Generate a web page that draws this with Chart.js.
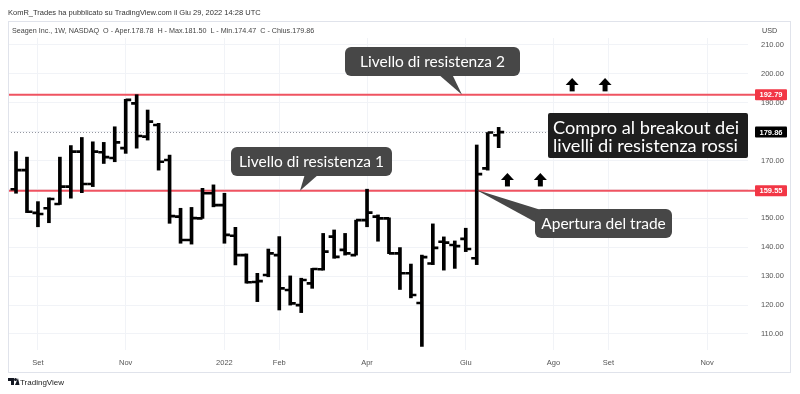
<!DOCTYPE html>
<html>
<head>
<meta charset="utf-8">
<script src="https://cdn.jsdelivr.net/npm/chart.js@4.4.1/dist/chart.umd.min.js"></script>
<style>
html, body { margin: 0; padding: 0; background: #fff; }
#wrap { position: relative; width: 800px; height: 394px; overflow: hidden; }
#grafico { position: absolute; left: 0; top: 0; }
.t { position: absolute; font-family: "Liberation Sans", Arial, sans-serif; color: #333; white-space: nowrap; }
</style>
</head>
<body>
<div id="wrap">
  <canvas id="grafico" width="800" height="394"></canvas>
  <div class="t" style="left:8px;top:8px;font-size:7.5px;">KomR_Trades ha pubblicato su TradingView.com il Giu 29, 2022 14:28 UTC</div>
  <div class="t" style="left:12px;top:26px;font-size:7.2px;color:#444;">Seagen Inc., 1W, NASDAQ&nbsp; O - Aper.178.78&nbsp; H - Max.181.50&nbsp; L - Min.174.47&nbsp; C - Chius.179.86</div>
  <div class="t" style="left:762px;top:26px;font-size:7.2px;color:#444;">USD</div>
  <div class="t" style="left:20px;top:378px;font-size:8px;color:#222;">TradingView</div>
</div>
<script>
// barre settimanali (23 ago 2021 -> 27 giu 2022)
const aperture = [160.1, 166.7, 151.9, 153.5, 155.0, 161.0, 173.1, 161.9, 172.9, 170.9, 174.3, 189.8, 178.3, 182.3, 170.2,
    150.6, 142.5, 150.0, 158.7, 154.6, 144.0, 137.3, 128.0, 130.4, 137.3, 125.2, 120.0, 127.5, 132.4, 143.7,
    139.1, 137.3, 149.4, 150.6, 150.0, 137.9, 131.0, 120.7, 134.4, 141.9, 140.8, 142.9, 136.2, 167.3, 178.78];
const massimi = [173.1, 171.2, 155.8, 157.1, 171.2, 175.2, 178.0, 176.5, 176.3, 181.7, 191.2, 192.8, 187.5, 182.9, 171.9,
    153.5, 153.8, 160.4, 161.6, 158.7, 146.9, 137.7, 131.0, 139.4, 143.7, 130.1, 129.3, 132.7, 144.8, 146.0,
    144.8, 149.4, 160.1, 151.2, 150.2, 139.9, 134.2, 137.3, 148.1, 143.6, 142.2, 146.6, 175.4, 179.7, 181.50];
const minimi = [158.7, 152.0, 147.1, 148.5, 154.8, 157.0, 158.9, 161.0, 169.0, 169.6, 172.5, 174.3, 177.1, 166.7, 148.3,
    141.4, 141.1, 150.0, 154.0, 141.4, 133.9, 127.6, 121.2, 129.8, 118.3, 120.0, 117.4, 125.8, 132.1, 136.2,
    137.3, 137.3, 147.1, 142.1, 137.8, 125.4, 122.5, 105.7, 134.0, 132.1, 132.7, 138.5, 134.0, 166.7, 174.47];
const chiusure = [166.7, 152.3, 151.5, 156.7, 161.0, 173.1, 161.9, 173.1, 171.2, 176.3, 191.0, 178.5, 183.5, 169.6, 150.8,
    142.5, 150.1, 158.7, 154.6, 144.3, 137.3, 127.9, 128.3, 137.9, 125.8, 120.6, 128.7, 132.5, 138.5, 136.7,
    137.9, 149.4, 152.0, 150.0, 137.9, 131.0, 123.5, 136.6, 139.8, 141.6, 140.4, 139.4, 165.3, 179.7, 179.86];

const mesiPos = [2, 10, 19, 24, 32, 41, 49, 54, 63];
const mesiEtichette = ["Set", "Nov", "2022", "Feb", "Apr", "Giu", "Ago", "Set", "Nov"];
const prezziTick = [110, 120, 130, 140, 150, 160, 170, 180, 190, 200, 210];

const resistenze = [192.79, 159.55];
const ultimoPrezzo = 179.86;

const frecceX = [44.8, 47.8, 50.7, 53.7];
const frecceY = [163.3, 163.3, 196.2, 196.2];

function rettangolo(ctx, x, y, w, h, r, colore) {
    ctx.fillStyle = colore;
    ctx.beginPath();
    ctx.roundRect(x, y, w, h, r);
    ctx.fill();
}

function triangolo(ctx, p, colore) {
    ctx.fillStyle = colore;
    ctx.beginPath();
    ctx.moveTo(p[0], p[1]);
    ctx.lineTo(p[2], p[3]);
    ctx.lineTo(p[4], p[5]);
    ctx.closePath();
    ctx.fill();
}

const livelliPlugin = {
    id: "livelli",
    beforeDatasetsDraw(chart) {
        const { ctx, chartArea, scales } = chart;
        ctx.save();
        ctx.strokeStyle = "#9598a1";
        ctx.lineWidth = 1;
        ctx.setLineDash([1, 2]);
        const yp = Math.round(scales.y.getPixelForValue(ultimoPrezzo)) + 0.5;
        ctx.beginPath();
        ctx.moveTo(chartArea.left, yp);
        ctx.lineTo(chartArea.right, yp);
        ctx.stroke();
        ctx.setLineDash([]);
        ctx.strokeStyle = "#ef5361";
        ctx.lineWidth = 2;
        resistenze.forEach(v => {
            const y = scales.y.getPixelForValue(v);
            ctx.beginPath();
            ctx.moveTo(chartArea.left, y);
            ctx.lineTo(chartArea.right + 7, y);
            ctx.stroke();
        });
        ctx.restore();
    }
};

const ohlcPlugin = {
    id: "ohlc",
    afterDatasetsDraw(chart) {
        const { ctx, scales } = chart;
        ctx.save();
        ctx.strokeStyle = "#000";
        ctx.lineWidth = 2.6;
        aperture.forEach((o, i) => {
            const xp = scales.x.getPixelForValue(i);
            const yo = scales.y.getPixelForValue(o);
            const yc = scales.y.getPixelForValue(chiusure[i]);
            ctx.beginPath();
            ctx.moveTo(xp - 5.5, yo);
            ctx.lineTo(xp, yo);
            ctx.moveTo(xp, yc);
            ctx.lineTo(xp + 5.5, yc);
            ctx.stroke();
        });
        ctx.restore();
    }
};

const notePlugin = {
    id: "note",
    afterDraw(chart) {
        const { ctx, scales } = chart;
        const y = v => scales.y.getPixelForValue(v);
        ctx.save();

        // bordo del pannello
        ctx.strokeStyle = "#e0e3eb";
        ctx.lineWidth = 1;
        ctx.strokeRect(8.5, 21.5, 782, 351);

        // etichette prezzo sull'asse
        ctx.font = "bold 7.5px 'Liberation Sans', Arial, sans-serif";
        ctx.textAlign = "center";
        ctx.textBaseline = "middle";
        resistenze.forEach(v => {
            rettangolo(ctx, 755, y(v) - 5.5, 32, 11, 1, "#f23645");
            ctx.fillStyle = "#fff";
            ctx.fillText(v.toFixed(2), 771, y(v) + 0.5);
        });
        rettangolo(ctx, 755, y(ultimoPrezzo) - 5.5, 32, 11, 1, "#000");
        ctx.fillStyle = "#fff";
        ctx.fillText(ultimoPrezzo.toFixed(2), 771, y(ultimoPrezzo) + 0.5);

        // callout grigi
        const grigio = "#474747";
        ctx.font = "15.5px Lato, 'Open Sans', sans-serif";
        triangolo(ctx, [438, 74, 452, 74, 462, y(resistenze[0])], grigio);
        rettangolo(ctx, 345, 47, 175, 29, 6, grigio);
        ctx.fillStyle = "#fff";
        ctx.fillText("Livello di resistenza 2", 432.5, 62);

        triangolo(ctx, [305, 174, 319, 174, 300, y(resistenze[1])], grigio);
        rettangolo(ctx, 231, 147, 161, 29, 6, grigio);
        ctx.fillStyle = "#fff";
        ctx.fillText("Livello di resistenza 1", 311.5, 162);

        triangolo(ctx, [476, y(resistenze[1]) - 1, 541, 210, 537, 223], grigio);
        rettangolo(ctx, 535, 209, 137, 29, 6, grigio);
        ctx.fillStyle = "#fff";
        ctx.fillText("Apertura del trade", 603.5, 224);

        // box nero
        rettangolo(ctx, 548, 113, 200, 45, 2, "#1e1e1e");
        ctx.fillStyle = "#fff";
        ctx.textAlign = "left";
        ctx.textBaseline = "alphabetic";
        ctx.font = "18.2px Lato, 'Open Sans', sans-serif";
        ctx.fillText("Compro al breakout dei", 553, 134);
        ctx.fillText("livelli di resistenza rossi", 553, 151.5);

        // frecce
        ctx.fillStyle = "#000";
        frecceX.forEach((fx, i) => {
            const cx = scales.x.getPixelForValue(fx);
            const cy = y(frecceY[i]);
            ctx.beginPath();
            ctx.moveTo(cx, cy - 7);
            ctx.lineTo(cx - 6.5, cy);
            ctx.lineTo(cx + 6.5, cy);
            ctx.closePath();
            ctx.fill();
            ctx.fillRect(cx - 2.5, cy - 0.5, 5, 7);
        });

        // logo TradingView
        ctx.fillStyle = "#131722";
        ctx.fillRect(8, 378, 6, 3);
        ctx.fillRect(11, 378, 3, 7);
        ctx.beginPath();
        ctx.arc(15.5, 379.5, 1.5, 0, Math.PI * 2);
        ctx.fill();
        triangolo(ctx, [15, 385, 18, 378, 19.5, 385], "#131722");
        ctx.restore();
    }
};

new Chart(document.getElementById("grafico"), {
    type: "bar",
    data: {
        datasets: [{
            data: massimi.map((h, i) => ({ x: i, y: [minimi[i], h] })),
            backgroundColor: "#000",
            borderWidth: 0,
            barThickness: 3
        }]
    },
    options: {
        responsive: false,
        animation: false,
        events: [],
        layout: { padding: { left: 8, top: 38, right: 9, bottom: 22 } },
        plugins: { legend: { display: false }, tooltip: { enabled: false } },
        scales: {
            x: {
                type: "linear",
                min: -0.73,
                max: 66.73,
                offset: false,
                grid: { color: "#f1f3f7", offset: false, drawTicks: false },
                border: { display: false },
                afterBuildTicks: axis => { axis.ticks = mesiPos.map(v => ({ value: v })); },
                afterFit: axis => { axis.height = 22; },
                ticks: {
                    padding: 8,
                    color: "#555",
                    maxRotation: 0,
                    autoSkip: false,
                    font: { size: 7.5, family: "'Liberation Sans', Arial, sans-serif" },
                    callback: v => mesiEtichette[mesiPos.indexOf(v)]
                }
            },
            y: {
                type: "linear",
                position: "right",
                min: 104.46,
                max: 212.42,
                grid: { color: "#f1f3f7", drawTicks: false },
                border: { display: false },
                afterBuildTicks: axis => { axis.ticks = prezziTick.map(v => ({ value: v })); },
                afterFit: axis => { axis.width = 43; },
                ticks: {
                    padding: 13,
                    color: "#555",
                    font: { size: 7.5, family: "'Liberation Sans', Arial, sans-serif" },
                    callback: v => v.toFixed(2)
                }
            }
        }
    },
    plugins: [livelliPlugin, ohlcPlugin, notePlugin]
});
</script>
</body>
</html>
